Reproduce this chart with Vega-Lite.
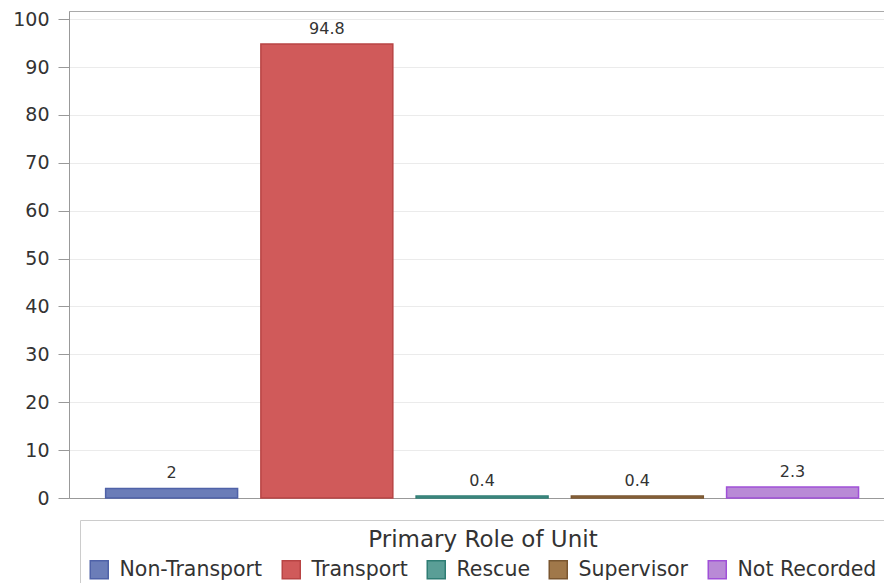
{
  "$schema": "https://vega.github.io/schema/vega-lite/v6.json",
  "autosize": "none",
  "width": 815,
  "height": 487,
  "padding": {"left": 69, "top": 11, "right": 0, "bottom": 85},
  "background": "white",
  "data": {
    "values": [
      {"role": "Non-Transport", "pct": 2},
      {"role": "Transport", "pct": 94.8},
      {"role": "Rescue", "pct": 0.4},
      {"role": "Supervisor", "pct": 0.4},
      {"role": "Not Recorded", "pct": 2.3}
    ]
  },
  "encoding": {
    "x": {
      "field": "role",
      "type": "nominal",
      "sort": null,
      "scale": {"paddingInner": 0.15, "paddingOuter": 0.2, "align": 0.59},
      "axis": {"labels": false, "ticks": false, "title": null, "domainColor": "#999"}
    },
    "y": {
      "field": "pct",
      "type": "quantitative",
      "scale": {"domain": [0, 101.7], "nice": false},
      "axis": {
        "title": null,
        "values": [0, 10, 20, 30, 40, 50, 60, 70, 80, 90, 100],
        "tickSize": 11,
        "tickColor": "#999",
        "domainColor": "#999",
        "gridColor": "#ebebeb",
        "labelFontSize": 19,
        "labelColor": "#333",
        "labelPadding": 9
      }
    }
  },
  "layer": [
    {
      "mark": {"type": "bar", "strokeWidth": 1.5},
      "encoding": {
        "fill": {
          "field": "role",
          "type": "nominal",
          "sort": null,
          "scale": {
            "domain": ["Non-Transport", "Transport", "Rescue", "Supervisor", "Not Recorded"],
            "range": ["#6b7db8", "#d05a5a", "#5a9e96", "#a0784a", "#b98ad6"]
          },
          "title": "Primary Role of Unit",
          "legend": {
            "orient": "none",
            "legendX": 11,
            "legendY": 509,
            "direction": "horizontal"
          }
        },
        "stroke": {
          "field": "role",
          "type": "nominal",
          "sort": null,
          "scale": {
            "domain": ["Non-Transport", "Transport", "Rescue", "Supervisor", "Not Recorded"],
            "range": ["#4f62a8", "#b84444", "#2f7d74", "#7a5630", "#a050d8"]
          },
          "title": "Primary Role of Unit",
          "legend": {
            "orient": "none",
            "legendX": 11,
            "legendY": 509,
            "direction": "horizontal"
          }
        }
      }
    },
    {
      "mark": {"type": "text", "baseline": "bottom", "dy": -7, "fontSize": 16, "color": "#333"},
      "encoding": {"text": {"field": "pct", "type": "quantitative"}}
    }
  ],
  "config": {
    "font": "DejaVu Sans",
    "view": {"stroke": "#aaa"},
    "legend": {
      "strokeColor": "#ccc",
      "padding": 9,
      "titleAnchor": "middle",
      "titleFontSize": 23,
      "titleFontWeight": "normal",
      "titleColor": "#333",
      "titleLimit": 600,
      "titlePadding": 7,
      "labelFontSize": 20.5,
      "labelColor": "#333",
      "labelLimit": 300,
      "labelOffset": 10,
      "columnPadding": 16,
      "symbolType": "square",
      "symbolSize": 324,
      "symbolStrokeWidth": 1.5,
      "symbolOpacity": 1
    }
  }
}
